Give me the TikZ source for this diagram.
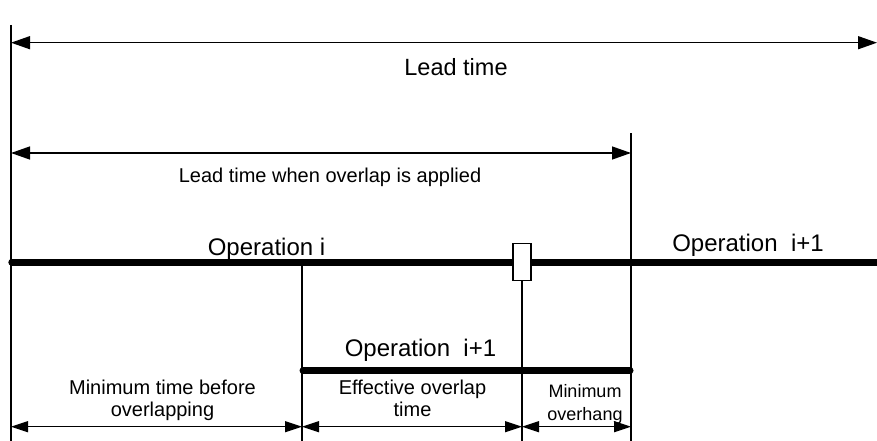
\documentclass[tikz,border=0pt]{standalone}
\usepackage{fontspec}
\setmainfont{Liberation Sans}
\usetikzlibrary{arrows.meta}
\begin{document}
\begin{tikzpicture}[x=1pt,y=-1pt,
  guide/.style={line width=1.4pt},
  bigspan/.style={line width=1.3pt,
    {Triangle[length=19pt,width=13pt]}-{Triangle[length=19pt,width=13pt]}},
  span/.style={line width=1.3pt,
    {Triangle[length=17pt,width=11pt]}-{Triangle[length=17pt,width=11pt]}},
  bar/.style={line width=7pt, line cap=round},
  big/.style={font=\fontsize{24}{28}\selectfont, inner sep=0pt, anchor=base},
  mid/.style={font=\fontsize{20}{22.7}\selectfont, inner sep=0pt, anchor=base, align=center},
  small/.style={font=\fontsize{18}{22.7}\selectfont, inner sep=0pt, anchor=base, align=center},
  gatebox/.style={draw, line width=1.3pt, fill=white, minimum width=18pt, minimum height=37pt, inner sep=0pt}]
\useasboundingbox (0,0) rectangle (877,441);

% vertical guides
\coordinate (start top) at (11,25);
\coordinate (start bot) at (11,441);
\coordinate (end top) at (631,133);
\coordinate (end bot) at (631,441);
\coordinate (ovl top) at (302,262);
\coordinate (ovl bot) at (302,441);
\coordinate (gate bot) at (522,441);

\draw[guide] (start top) -- (start bot);
\draw[guide] (end top) -- (end bot);
\draw[guide] (ovl top) -- (ovl bot);

% operation bars
\coordinate (op west) at (11.8,262);
\coordinate (op east) at (882,262);
\draw[bar] (op west) -- (op east);
\coordinate (next west) at (303,370.7);
\coordinate (next east) at (630,370.7);
\draw[bar] (next west) -- (next east);

% transfer gate
\node[gatebox] (gate) at (522,261.7) {};
\draw[guide] (gate.south) -- (gate bot);

% lead time spans
\coordinate (lead west) at (11,42.7);
\coordinate (lead east) at (877,42.7);
\draw[bigspan] (lead west) -- (lead east);
\coordinate (short west) at (11,153);
\coordinate (short east) at (631,153);
\draw[bigspan] (short west) -- (short east);

% bottom spans
\coordinate (b0) at (11,426.7);
\coordinate (b1) at (302,426.7);
\coordinate (b2) at (522,426.7);
\coordinate (b3) at (631,426.7);
\draw[span] (b0) -- (b1);
\draw[span] (b1) -- (b2);
\draw[span] (b2) -- (b3);

% labels (multi-line labels sit on the baseline of their last line)
\node[big, font=\fontsize{23.5}{28}\selectfont] (lead lbl) at (456,75.5) {Lead time};
\node[mid] (short lbl) at (330,182.7) {Lead time when overlap is applied};
\node[big] (op lbl) at (266.5,255.7) {Operation i};
\node[big] (next lbl a) at (748,251.7) {Operation~~i+1};
\node[big] (next lbl b) at (420.5,356.7) {Operation~~i+1};
\node[mid] (min lbl) at (162.5,416.7) {Minimum time before\\overlapping};
\node[mid] (eff lbl) at (412.5,416.7) {Effective overlap\\time};
\node[small] (hang lbl) at (585,420) {Minimum\\overhang};
\end{tikzpicture}
\end{document}
